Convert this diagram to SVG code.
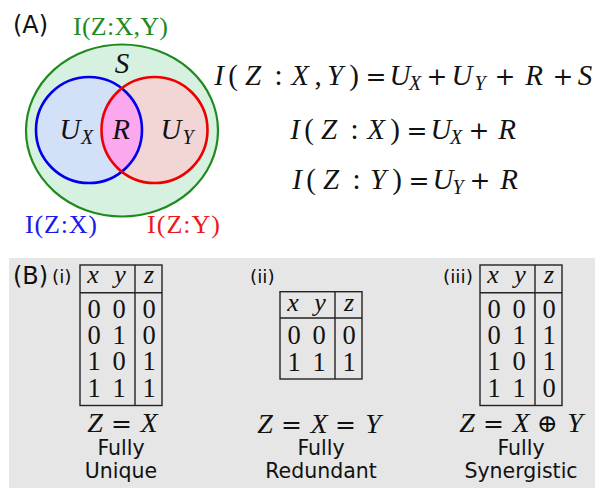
<svg xmlns="http://www.w3.org/2000/svg" width="595" height="488" viewBox="0 0 595 488">
<style>
.sans{font-family:"DejaVu Sans","Liberation Sans",sans-serif;fill:#111}
.m{font-family:"Liberation Serif","DejaVu Serif",serif;fill:#111;text-anchor:middle}
.i{font-style:italic}
.s{font-style:italic;font-size:20px}
.op{font-family:"DejaVu Serif","Liberation Serif",serif;font-style:normal;font-size:25px}
.tb{fill:none;stroke:#222;stroke-width:1.4}
.d{font-family:"Liberation Serif","DejaVu Serif",serif;font-size:26.5px;fill:#111;text-anchor:middle}
.h{font-family:"Liberation Serif","DejaVu Serif",serif;font-size:26px;font-style:italic;fill:#111;text-anchor:middle}
.lab{font-family:"DejaVu Sans","Liberation Sans",sans-serif;font-size:20.5px;fill:#111;text-anchor:middle}
</style>
<defs>
<clipPath id="cb"><circle cx="89" cy="130" r="53"/></clipPath>
</defs>
<g id="panelA">
<text class="sans" x="13" y="33" font-size="24">(A)</text>
<g id="venn">
<ellipse cx="122" cy="130.5" rx="96" ry="86" fill="#d6f1df" stroke="#1f8a1f" stroke-width="2.2"/>
<circle cx="89" cy="130" r="53" fill="#d2e0f8"/>
<circle cx="154.5" cy="130" r="53" fill="#f2d6d6"/>
<circle cx="154.5" cy="130" r="53" fill="#fca8ee" clip-path="url(#cb)"/>
<circle cx="89" cy="130" r="53" fill="none" stroke="#0000ee" stroke-width="2.6"/>
<circle cx="154.5" cy="130" r="53" fill="none" stroke="#ee0000" stroke-width="2.6"/>
<text class="m i" x="122" y="73" font-size="29">S</text>
<text class="m i" font-size="29"><tspan x="70" y="139">U</tspan><tspan x="87" y="144" font-size="20">X</tspan></text>
<text class="m i" x="121" y="139" font-size="29">R</text>
<text class="m i" font-size="29"><tspan x="171" y="139">U</tspan><tspan x="188" y="144" font-size="20">Y</tspan></text>
</g>
<text class="m" x="120.5" y="35" font-size="26" style="fill:#1f8a1f" textLength="95">I(Z:X,Y)</text>
<text class="m" x="61" y="233" font-size="26" style="fill:#1a1aee" textLength="72">I(Z:X)</text>
<text class="m" x="183.5" y="233" font-size="26" style="fill:#ee1a1a" textLength="73">I(Z:Y)</text>
<g id="equations">
<text class="m" font-size="29"><tspan class="i" x="219" y="85">I</tspan><tspan x="233" y="85">(</tspan><tspan class="i" x="253" y="85">Z</tspan><tspan x="278.5" y="85">:</tspan><tspan class="i" x="300" y="85">X</tspan><tspan x="318" y="85">,</tspan><tspan class="i" x="335" y="85">Y</tspan><tspan x="354" y="85">)</tspan><tspan class="op" x="376" y="85">=</tspan><tspan class="i" x="400" y="85">U</tspan><tspan class="s" x="415" y="90">X</tspan><tspan class="op" x="437" y="85">+</tspan><tspan class="i" x="462" y="85">U</tspan><tspan class="s" x="480" y="90">Y</tspan><tspan class="op" x="505" y="85">+</tspan><tspan class="i" x="534" y="85">R</tspan><tspan class="op" x="563" y="85">+</tspan><tspan class="i" x="585" y="85">S</tspan></text>
<text class="m" font-size="29"><tspan class="i" x="295" y="139">I</tspan><tspan x="309" y="139">(</tspan><tspan class="i" x="329" y="139">Z</tspan><tspan x="354.5" y="139">:</tspan><tspan class="i" x="376" y="139">X</tspan><tspan x="395" y="139">)</tspan><tspan class="op" x="417" y="139">=</tspan><tspan class="i" x="441" y="139">U</tspan><tspan class="s" x="456" y="144">X</tspan><tspan class="op" x="479" y="139">+</tspan><tspan class="i" x="507" y="139">R</tspan></text>
<text class="m" font-size="29"><tspan class="i" x="297" y="189">I</tspan><tspan x="311" y="189">(</tspan><tspan class="i" x="331" y="189">Z</tspan><tspan x="356.5" y="189">:</tspan><tspan class="i" x="378" y="189">Y</tspan><tspan x="397" y="189">)</tspan><tspan class="op" x="419" y="189">=</tspan><tspan class="i" x="443" y="189">U</tspan><tspan class="s" x="458" y="194">Y</tspan><tspan class="op" x="480" y="189">+</tspan><tspan class="i" x="509" y="189">R</tspan></text>
</g>
</g>
<g id="panelB">
<rect x="9" y="258" width="586" height="230" fill="#e6e6e6"/>
<text class="sans" x="13" y="284" font-size="24">(B)</text>
<g id="table-i">
<text class="sans" x="52" y="283" font-size="18.5">(i)</text>
<rect class="tb" x="80" y="265" width="82" height="140.5"/>
<line class="tb" x1="80" y1="292.7" x2="162" y2="292.7"/>
<line class="tb" x1="135" y1="265" x2="135" y2="405.5"/>
<text class="h" x="93" y="283">x</text><text class="h" x="120" y="283">y</text><text class="h" x="149" y="283">z</text>
<text class="d" x="94" y="318">0</text><text class="d" x="119" y="318">0</text><text class="d" x="149" y="318">0</text>
<text class="d" x="94" y="344">0</text><text class="d" x="119" y="344">1</text><text class="d" x="149" y="344">0</text>
<text class="d" x="94" y="370">1</text><text class="d" x="119" y="370">0</text><text class="d" x="149" y="370">1</text>
<text class="d" x="94" y="397">1</text><text class="d" x="119" y="397">1</text><text class="d" x="149" y="397">1</text>
<text class="m" font-size="28"><tspan class="i" x="95" y="432">Z</tspan><tspan class="op" x="121.5" y="432" font-size="23">=</tspan><tspan class="i" x="149" y="432">X</tspan></text>
<text class="lab" x="121" y="455">Fully</text>
<text class="lab" x="121" y="478">Unique</text>
</g>
<g id="table-ii">
<text class="sans" x="250" y="283" font-size="18.5">(ii)</text>
<rect class="tb" x="280" y="291.7" width="82" height="87.3"/>
<line class="tb" x1="280" y1="318" x2="362" y2="318"/>
<line class="tb" x1="335" y1="291.7" x2="335" y2="379"/>
<text class="h" x="293" y="311">x</text><text class="h" x="320" y="311">y</text><text class="h" x="349" y="311">z</text>
<text class="d" x="294" y="344">0</text><text class="d" x="319" y="344">0</text><text class="d" x="349" y="344">0</text>
<text class="d" x="294" y="371">1</text><text class="d" x="319" y="371">1</text><text class="d" x="349" y="371">1</text>
<text class="m" font-size="28"><tspan class="i" x="265" y="433">Z</tspan><tspan class="op" x="291.5" y="433" font-size="23">=</tspan><tspan class="i" x="319" y="433">X</tspan><tspan class="op" x="345.5" y="433" font-size="23">=</tspan><tspan class="i" x="373" y="433">Y</tspan></text>
<text class="lab" x="321" y="455">Fully</text>
<text class="lab" x="321" y="478">Redundant</text>
</g>
<g id="table-iii">
<text class="sans" x="443" y="283" font-size="18.5">(iii)</text>
<rect class="tb" x="480" y="265" width="82" height="140.5"/>
<line class="tb" x1="480" y1="292.7" x2="562" y2="292.7"/>
<line class="tb" x1="535" y1="265" x2="535" y2="405.5"/>
<text class="h" x="493" y="283">x</text><text class="h" x="520" y="283">y</text><text class="h" x="549" y="283">z</text>
<text class="d" x="494" y="318">0</text><text class="d" x="519" y="318">0</text><text class="d" x="549" y="318">0</text>
<text class="d" x="494" y="344">0</text><text class="d" x="519" y="344">1</text><text class="d" x="549" y="344">1</text>
<text class="d" x="494" y="370">1</text><text class="d" x="519" y="370">0</text><text class="d" x="549" y="370">1</text>
<text class="d" x="494" y="397">1</text><text class="d" x="519" y="397">1</text><text class="d" x="549" y="397">0</text>
<text class="m" font-size="28"><tspan class="i" x="467" y="432">Z</tspan><tspan class="op" x="493.5" y="432" font-size="23">=</tspan><tspan class="i" x="521" y="432">X</tspan><tspan class="op" x="547.5" y="432" font-size="23">⊕</tspan><tspan class="i" x="575" y="432">Y</tspan></text>
<text class="lab" x="521" y="455">Fully</text>
<text class="lab" x="521" y="478">Synergistic</text>
</g>
</g>
</svg>
